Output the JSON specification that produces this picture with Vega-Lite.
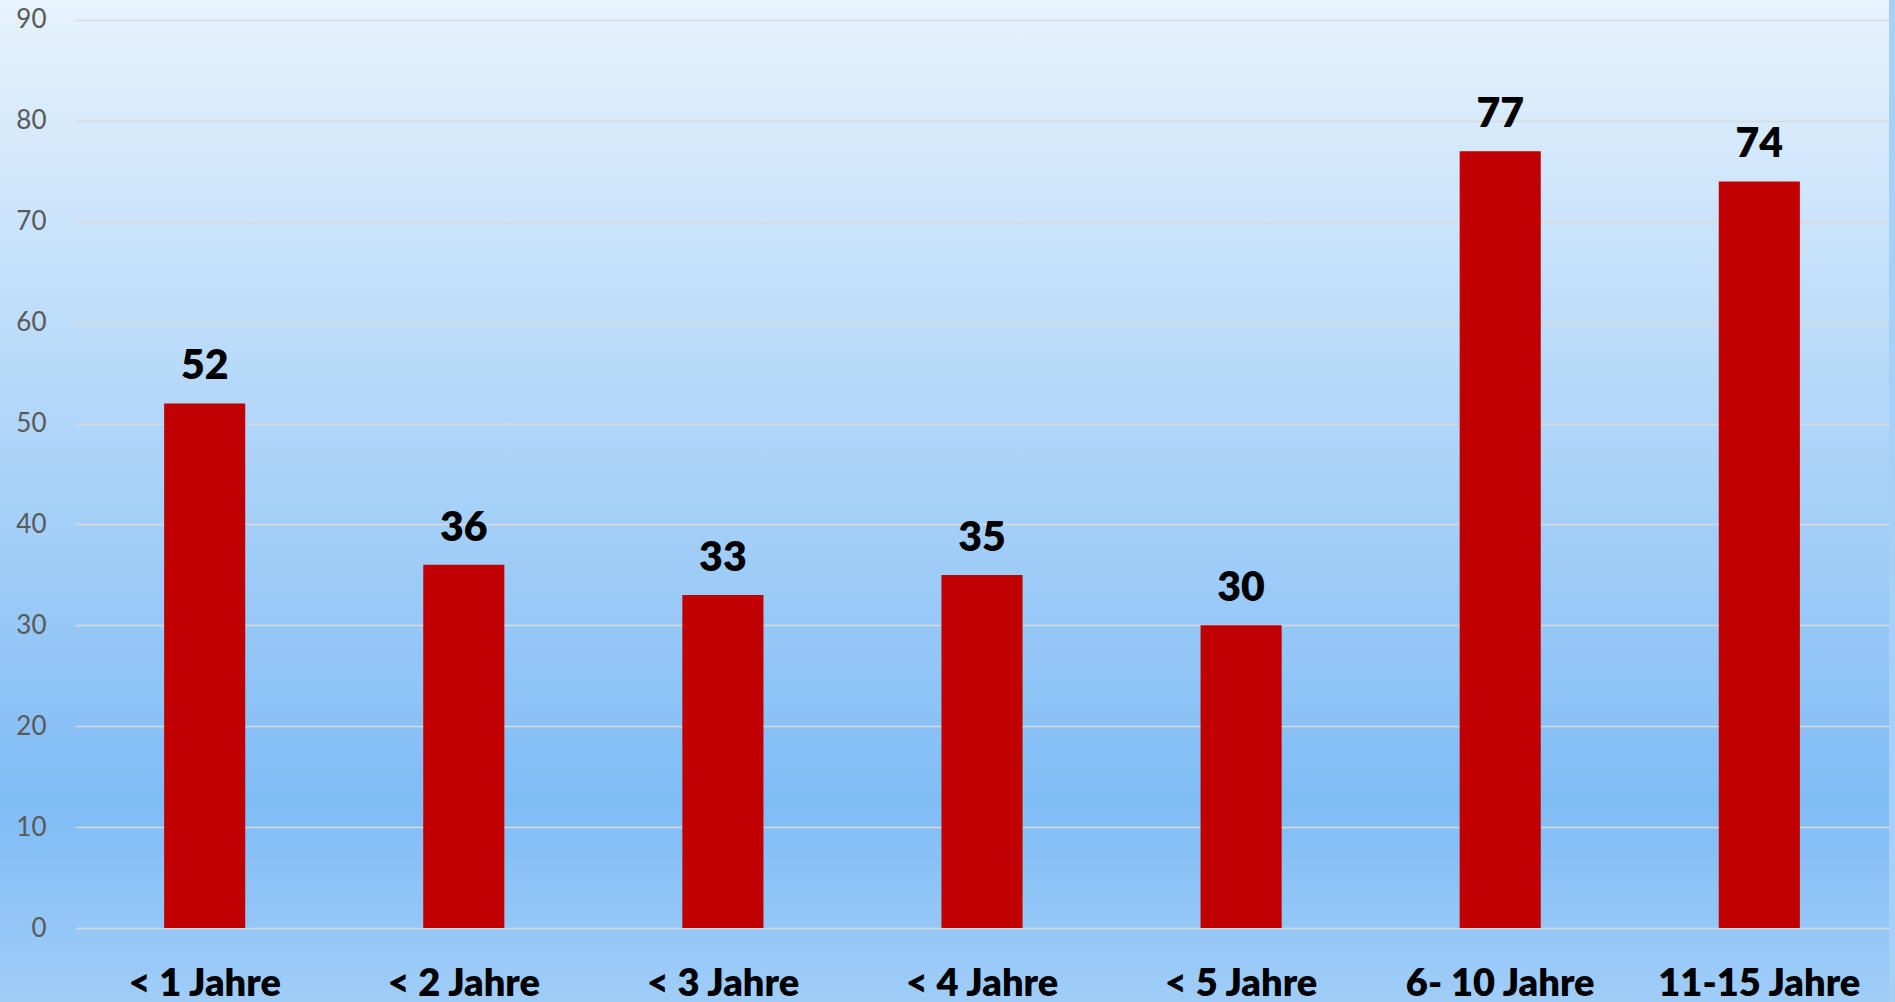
{
  "$schema": "https://vega.github.io/schema/vega-lite/v6.json",
  "autosize": {"type": "pad"},
  "padding": {"left": 0, "top": 0, "right": 6, "bottom": 0},
  "background": "#a6d0f8",
  "spacing": 0,
  "bounds": "flush",
  "config": {
    "view": {
      "stroke": null,
      "fill": {
        "gradient": "linear",
        "x1": 0, "y1": 0, "x2": 0, "y2": 1,
        "stops": [
          {"offset": 0, "color": "#e7f3fd"},
          {"offset": 0.8, "color": "#80bcf5"},
          {"offset": 1, "color": "#a0cdf8"}
        ]
      }
    },
    "font": "Lato"
  },
  "data": {
    "values": [
      {"kategorie": "< 1 Jahre", "wert": 52},
      {"kategorie": "< 2 Jahre", "wert": 36},
      {"kategorie": "< 3 Jahre", "wert": 33},
      {"kategorie": "< 4 Jahre", "wert": 35},
      {"kategorie": "< 5 Jahre", "wert": 30},
      {"kategorie": "6- 10 Jahre", "wert": 77},
      {"kategorie": "11-15 Jahre", "wert": 74}
    ]
  },
  "hconcat": [
    {
      "width": 75,
      "height": 1002,
      "mark": {"type": "tick", "opacity": 0},
      "encoding": {
        "y": {
          "field": "wert",
          "type": "quantitative",
          "scale": {"domain": [-7.33, 91.98], "nice": false, "zero": false},
          "axis": {
            "title": null,
            "values": [0, 10, 20, 30, 40, 50, 60, 70, 80, 90],
            "ticks": false,
            "domain": false,
            "grid": false,
            "labelFont": "Lato",
            "labelFontSize": 26,
            "labelColor": "#595959",
            "labelPadding": -46,
            "labelAlign": "right",
            "labelBound": false,
            "labelFlush": false,
            "labelOverlap": false
          }
        }
      }
    },
    {
      "width": 1814,
      "height": 1002,
      "encoding": {
        "x": {
          "field": "kategorie",
          "type": "nominal",
          "sort": null,
          "scale": {"paddingInner": 0.687, "paddingOuter": 0.344},
          "axis": {
            "title": null,
            "labelAngle": 0,
            "ticks": false,
            "domain": false,
            "labelFont": "Lato",
            "labelFontWeight": 800,
            "labelFontSize": 38,
            "labelColor": "#000000",
            "labelBaseline": "alphabetic",
            "labelPadding": -7,
            "labelOverlap": false,
            "labelBound": false,
            "labelFlush": false,
            "labelLimit": 0
          }
        },
        "y": {
          "field": "wert",
          "type": "quantitative",
          "scale": {"domain": [-7.33, 91.98], "nice": false, "zero": false},
          "axis": {
            "title": null,
            "values": [0, 10, 20, 30, 40, 50, 60, 70, 80, 90],
            "ticks": false,
            "domain": false,
            "labels": false,
            "grid": true,
            "gridColor": "#d9d9d9",
            "gridWidth": 1.5
          }
        }
      },
      "layer": [
        {"mark": {"type": "bar", "color": "#c00000"}},
        {
          "mark": {
            "type": "text",
            "baseline": "alphabetic",
            "dy": -24,
            "font": "Lato",
            "fontWeight": 800,
            "fontSize": 41,
            "color": "#000000"
          },
          "encoding": {"text": {"field": "wert", "type": "quantitative"}}
        }
      ]
    }
  ]
}
